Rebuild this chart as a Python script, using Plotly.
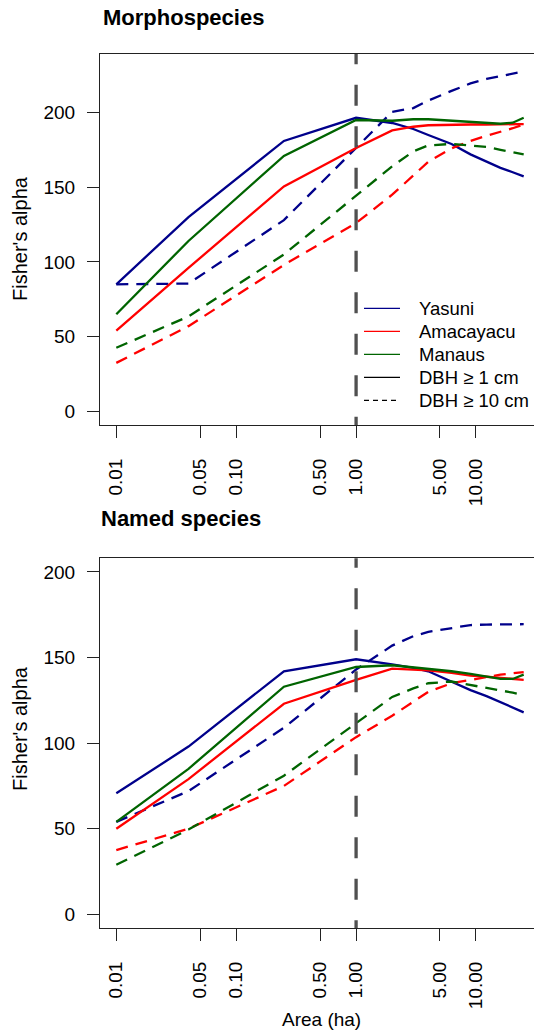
import plotly.graph_objects as go

# ---- data ----
area = [0.01, 0.04, 0.25, 1, 2, 3, 4, 6.25, 9, 12.25, 16, 20.25, 25]

# Morphospecies
morph_yasuni_1 = [85, 130, 181, 196.5, 193, 189, 185, 179, 172, 167, 163, 160, 157.3]
morph_yasuni_10 = [85, 85.5, 128, 176, 200.5, 203, 208, 214.5, 219.5, 222.5, 224.5, 226, 227.5]
morph_amaca_1 = [54, 96, 150.5, 176.3, 188, 190.5, 191.5, 192, 192, 192, 192, 192, 192.3]
morph_amaca_10 = [32.4, 57, 98, 126, 145, 158, 167, 176, 181, 184.5, 187, 189.5, 192]
morph_manaus_1 = [65, 114, 171, 195, 194.5, 195.5, 195.5, 194.5, 193.8, 193, 192.5, 193.2, 196.5]
morph_manaus_10 = [42.5, 63.5, 105, 144, 164, 174, 178, 179, 178, 177, 175, 173.5, 172]

# Named species
named_yasuni_1 = [70.7, 98, 142, 149, 146, 144, 142, 136.2, 131, 127.5, 124, 121, 118]
named_yasuni_10 = [54, 72, 109, 143, 157, 162.5, 165, 167, 169, 169.3, 169.5, 169.5, 169.5]
named_amaca_1 = [50, 79, 123, 137, 143.5, 143, 142.5, 141, 139.5, 138.8, 138, 137.5, 137]
named_amaca_10 = [37.5, 50, 75, 103.5, 116, 124.5, 130, 135, 137, 138.5, 140, 140.8, 141.5]
named_manaus_1 = [54, 85, 133, 144.5, 145.5, 144.4, 143.5, 142, 140.5, 139, 137.6, 137.5, 140]
named_manaus_10 = [29, 49.5, 81, 112, 127, 132, 135, 136, 134, 132.5, 131, 129.5, 128]

sites = ["Yasuni", "Amacayacu", "Manaus"]
site_colors = {"Yasuni": "#00008B", "Amacayacu": "#FF0000", "Manaus": "#006400"}

x_tickvals = [0.01, 0.05, 0.1, 0.5, 1, 5, 10]
x_ticktext = ["0.01", "0.05", "0.10", "0.50", "1.00", "5.00", "10.00"]
y_tickvals = [0, 50, 100, 150, 200]
y_ticktext = ["0", "50", "100", "150", "200"]

panel_titles = ["Morphospecies", "Named species"]
y_title = "Fisher's alpha"
x_title = "Area (ha)"
legend_labels = ["Yasuni", "Amacayacu", "Manaus", "DBH \u2265 1 cm", "DBH \u2265 10 cm"]

FONT = "Liberation Sans, Arial, Helvetica, sans-serif"
OFF = 8  # page body margin of the html page
W, H = 542 - OFF, 1032 - OFF
ML, MR, MT, MB = 100 - OFF, 2, 54 - OFF, 104
PW = W - ML - MR
PH = H - MT - MB


def px_x(p):
    """screen pixel x -> paper coordinate"""
    return (p - OFF - ML) / PW


def px_y(p):
    """screen pixel y -> paper coordinate"""
    return (H - MB - (p - OFF)) / PH


fig = go.Figure()

panels = [
    ("x", "y", {"Yasuni": (morph_yasuni_1, morph_yasuni_10),
                "Amacayacu": (morph_amaca_1, morph_amaca_10),
                "Manaus": (morph_manaus_1, morph_manaus_10)}),
    ("x2", "y2", {"Yasuni": (named_yasuni_1, named_yasuni_10),
                  "Amacayacu": (named_amaca_1, named_amaca_10),
                  "Manaus": (named_manaus_1, named_manaus_10)}),
]

for xa, ya, series in panels:
    for site in sites:
        s1, s10 = series[site]
        fig.add_trace(go.Scatter(x=area, y=s10, mode="lines", xaxis=xa, yaxis=ya,
                                 line=dict(color=site_colors[site], width=2.3, dash="12px,8px"),
                                 showlegend=False, hoverinfo="skip"))
        fig.add_trace(go.Scatter(x=area, y=s1, mode="lines", xaxis=xa, yaxis=ya,
                                 line=dict(color=site_colors[site], width=2.3),
                                 showlegend=False, hoverinfo="skip"))

# vertical reference line at 1 ha
for xa, ya, ystart in [("x", "y", 246.4), ("x2", "y2", 214.8)]:
    fig.add_shape(type="line", xref=xa, yref=ya, x0=1, x1=1, y0=ystart, y1=-80,
                  line=dict(color="#505050", width=3.3, dash="21px,20.5px"), layer="above")

# legend (drawn as keys + labels, R style)
leg_styles = [(site_colors["Yasuni"], "solid"), (site_colors["Amacayacu"], "solid"),
              (site_colors["Manaus"], "solid"), ("#000000", "solid"), ("#000000", "5px,4px")]
leg_y0, leg_dy = 308.3, 23.0
annotations = []
for i, (lab, (c, d)) in enumerate(zip(legend_labels, leg_styles)):
    yy = px_y(leg_y0 + i * leg_dy)
    fig.add_shape(type="line", xref="paper", yref="paper", x0=px_x(364), x1=px_x(400),
                  y0=yy, y1=yy, line=dict(color=c, width=1.3, dash=d))
    annotations.append(dict(text=lab, x=px_x(417), y=yy, xanchor="left", yanchor="middle",
                            font=dict(family=FONT, size=18.5, color="#000")))

axis_common = dict(showline=True, linecolor="#222", linewidth=1, mirror=True,
                   ticks="outside", ticklen=12, tickwidth=1, tickcolor="#222",
                   showgrid=False, zeroline=False, automargin=False,
                   tickfont=dict(family=FONT, size=19, color="#000"))
xr = [-2.136, 1.534]
fig.update_layout(
    xaxis=dict(type="log", range=xr, domain=[0, 1], anchor="y",
               tickvals=x_tickvals, ticktext=x_ticktext, tickangle=-90,
               ticklabelstandoff=13, **axis_common),
    yaxis=dict(range=[-9.2, 239.2], domain=[0.5755, 1], anchor="x",
               tickvals=y_tickvals, ticktext=y_ticktext, ticklabelstandoff=8, **axis_common),
    xaxis2=dict(type="log", range=xr, domain=[0, 1], anchor="y2",
                tickvals=x_tickvals, ticktext=x_ticktext, tickangle=-90,
                ticklabelstandoff=13, **axis_common),
    yaxis2=dict(range=[-8, 208], domain=[0, 0.423], anchor="x2",
                tickvals=y_tickvals, ticktext=y_ticktext, ticklabelstandoff=8, **axis_common),
)

annotations += [
    dict(text="<b>" + panel_titles[0] + "</b>", x=px_x(101), y=px_y(17), xanchor="left", yanchor="middle",
         font=dict(family=FONT, size=22, color="#000")),
    dict(text="<b>" + panel_titles[1] + "</b>", x=px_x(99), y=px_y(518), xanchor="left", yanchor="middle",
         font=dict(family=FONT, size=22, color="#000")),
    dict(text=y_title, x=px_x(20), y=px_y(239), textangle=-90, xanchor="center", yanchor="middle",
         font=dict(family=FONT, size=20, color="#000")),
    dict(text=y_title, x=px_x(20), y=px_y(729), textangle=-90, xanchor="center", yanchor="middle",
         font=dict(family=FONT, size=20, color="#000")),
    dict(text=x_title, x=px_x(321), y=px_y(1019), xanchor="center", yanchor="middle",
         font=dict(family=FONT, size=19, color="#000")),
]
for a in annotations:
    a.update(xref="paper", yref="paper", showarrow=False)

fig.update_layout(
    width=W, height=H,
    margin=dict(l=ML, r=MR, t=MT, b=MB, pad=0, autoexpand=False),
    paper_bgcolor="white", plot_bgcolor="white",
    annotations=annotations,
    showlegend=False,
    font=dict(family=FONT),
)

fig.write_html("out.html")
